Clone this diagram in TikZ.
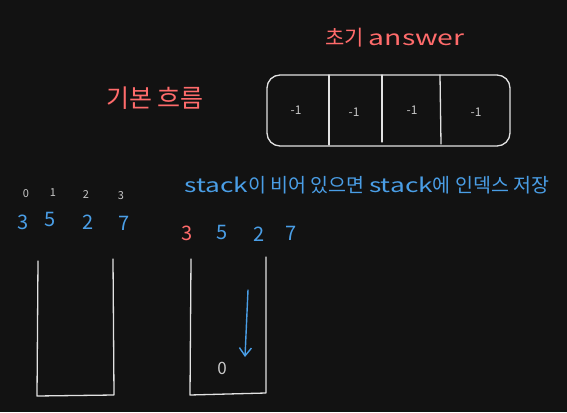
\documentclass[tikz,border=0pt]{standalone}
\usepackage{fontspec}
\setmainfont{Noto Sans CJK KR}
\newfontfamily\latw[FakeStretch=1.35]{Noto Sans CJK KR}
\usetikzlibrary{arrows.meta}
\definecolor{bg}{HTML}{121212}
\definecolor{redt}{HTML}{FF6B6B}
\definecolor{bluet}{HTML}{4A9EE6}
\definecolor{greyt}{HTML}{C8C8C8}
\definecolor{strk}{HTML}{E2E2E2}
\tikzset{
  redlabel/.style={text=redt, inner sep=0pt},
  bluelabel/.style={text=bluet, inner sep=0pt},
  greylabel/.style={text=greyt, inner sep=0pt},
  line/.style={draw=strk, line width=1.3pt, line cap=round, line join=round},
  bigdigit/.style={font=\fontsize{20}{20}\selectfont},
  idx/.style={greylabel, font=\fontsize{11}{11}\selectfont},
  cellval/.style={greylabel, font=\fontsize{12}{12}\selectfont},
}
\begin{document}
\begin{tikzpicture}[x=1pt,y=-1pt]
\fill[bg] (0,0) rectangle (567,412);
\useasboundingbox (0,0) rectangle (567,412);

% titles
\node[redlabel, font=\fontsize{21}{21}\selectfont] (t1) at (395,38) {초기 {\latw answer}};
\node[redlabel, font=\fontsize{25}{25}\selectfont] (t2) at (155,98) {기본 흐름};

% answer array
\draw[line, rounded corners=13pt] (267,75) rectangle (510,146);
\coordinate (d1t) at (329,75); \coordinate (d1b) at (329,145);
\coordinate (d2t) at (382,75); \coordinate (d2b) at (382,142);
\coordinate (d3t) at (440,75); \coordinate (d3b) at (441,144);
\draw[line] (d1t) -- (d1b);
\draw[line] (d2t) -- (d2b);
\draw[line] (d3t) -- (d3b);
\node[cellval] (c0) at (296,110) {-1};
\node[cellval] (c1) at (354,112) {-1};
\node[cellval] (c2) at (412,110) {-1};
\node[cellval] (c3) at (476,112) {-1};

% indices
\node[idx] (i0) at (26,194) {0};
\node[idx] (i1) at (53,193) {1};
\node[idx] (i2) at (86,195) {2};
\node[idx] (i3) at (121,196) {3};

% left numbers
\node[bluelabel, bigdigit] (n0) at (23,222) {3};
\node[bluelabel, bigdigit] (n1) at (50,219) {5};
\node[bluelabel, bigdigit] (n2) at (88,222) {2};
\node[bluelabel, bigdigit] (n3) at (124,223) {7};

% description
\node[bluelabel, font=\fontsize{19.5}{19.5}\selectfont] (desc) at (367,185) {{\latw stack}이 비어 있으면 {\latw stack}에 인덱스 저장};

% second numbers
\node[redlabel, bigdigit] (m0) at (187,233) {3};
\node[bluelabel, bigdigit] (m1) at (222,232) {5};
\node[bluelabel, bigdigit] (m2) at (259,234) {2};
\node[bluelabel, bigdigit] (m3) at (291,233) {7};

% left stack
\coordinate (ls1) at (38,261);
\coordinate (ls2) at (37,396);
\coordinate (ls3) at (114,395);
\coordinate (ls4) at (113,259);
\draw[line] (ls1) -- (ls2) -- (ls3) -- (ls4);

% right stack
\coordinate (rs1) at (191,259);
\coordinate (rs2) at (190,395);
\coordinate (rs3) at (266,393);
\coordinate (rs4) at (266,257);
\draw[line] (rs1) -- (rs2) -- (rs3) -- (rs4);

% arrow
\coordinate (as) at (248,290);
\coordinate (ae) at (245,357);
\draw[draw=bluet, line width=1.4pt, line cap=round, -{Straight Barb[length=8pt,width=12pt]}] (as) -- (ae);

\node[greylabel, font=\fontsize{17}{17}\selectfont] (z0) at (222,368) {0};
\end{tikzpicture}
\end{document}
